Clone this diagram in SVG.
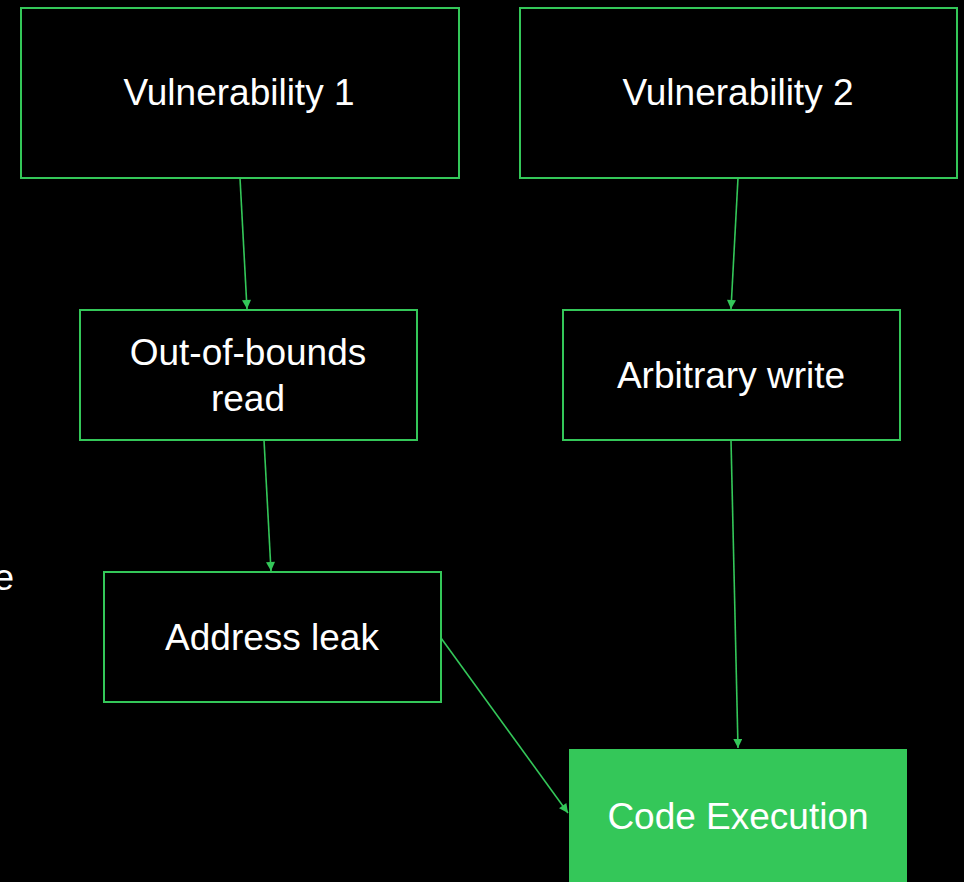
<svg xmlns="http://www.w3.org/2000/svg" width="964" height="882" viewBox="0 0 964 882">
<defs>
<style>
.box{fill:#000;stroke:#34C759;stroke-width:2}
.fill{fill:#34C759;stroke:none}
.t{font-family:"Liberation Sans",Arial,sans-serif;font-size:37px;fill:#fff;text-anchor:middle}
.c{stroke:#34C759;stroke-width:1.6;fill:none;marker-end:url(#ah)}
</style>
<marker id="ah" viewBox="0 0 10 10" refX="10" refY="5" markerWidth="11" markerHeight="9" markerUnits="userSpaceOnUse" orient="auto">
<path d="M0,0 L10,5 L0,10 z" fill="#34C759"/>
</marker>
</defs>
<rect width="964" height="882" fill="#000"/>
<text class="t" x="14" y="590" style="text-anchor:end">e</text>
<g id="connectors">
<line class="c" x1="240" y1="178" x2="247" y2="309"/>
<line class="c" x1="738" y1="178" x2="731" y2="309"/>
<line class="c" x1="264" y1="440" x2="271" y2="571"/>
<line class="c" x1="731" y1="440" x2="738" y2="748"/>
<line class="c" x1="441" y1="638" x2="568" y2="813"/>
</g>
<g id="vuln1"><rect class="box" x="21" y="8" width="438" height="170"/><text class="t" x="239" y="105">Vulnerability 1</text></g>
<g id="vuln2"><rect class="box" x="520" y="8" width="437" height="170"/><text class="t" x="738" y="105">Vulnerability 2</text></g>
<g id="oob"><rect class="box" x="80" y="310" width="337" height="130"/><text class="t" x="248" y="365">Out-of-bounds</text><text class="t" x="248" y="411">read</text></g>
<g id="aw"><rect class="box" x="563" y="310" width="337" height="130"/><text class="t" x="731" y="388">Arbitrary write</text></g>
<g id="leak"><rect class="box" x="104" y="572" width="337" height="130"/><text class="t" x="272" y="650">Address leak</text></g>
<g id="exec"><rect class="fill" x="569" y="749" width="338" height="140"/><text class="t" x="738" y="829">Code Execution</text></g>
</svg>
